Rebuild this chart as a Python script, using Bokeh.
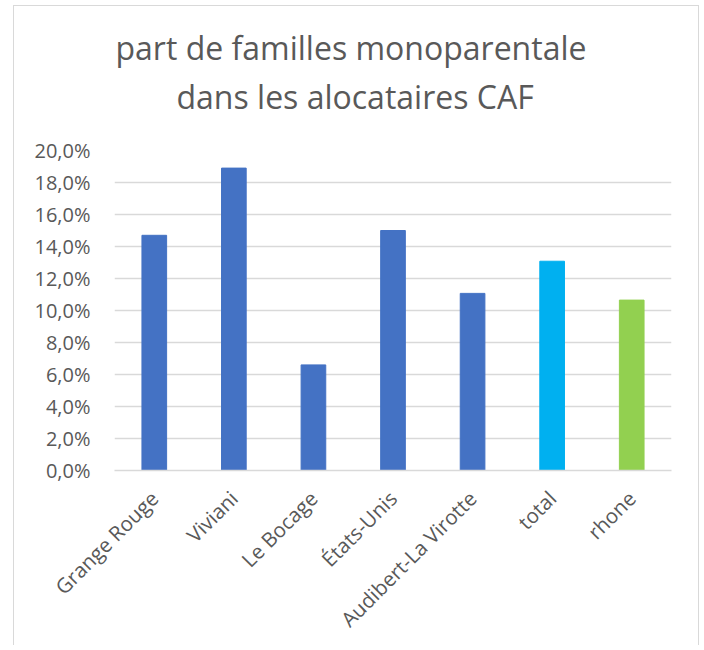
from bokeh.plotting import figure
from bokeh.models import ColumnDataSource, FixedTicker, CustomJSTickFormatter, Range1d, FactorRange, Title
from bokeh.embed import file_html
from bokeh.resources import INLINE
import math

# --- data ---
categories = ["Grange Rouge", "Viviani", "Le Bocage", "États-Unis", "Audibert-La Virotte", "total", "rhone"]
values = [0.147, 0.189, 0.066, 0.150, 0.1107, 0.1308, 0.1065]
colors = ["#4472C4", "#4472C4", "#4472C4", "#4472C4", "#4472C4", "#00B0F0", "#92D050"]
y_ticks = [0.0, 0.02, 0.04, 0.06, 0.08, 0.10, 0.12, 0.14, 0.16, 0.18, 0.20]
title_lines = ["part de familles monoparentale", "dans les alocataires CAF"]

FONT = "Open Sans"
TXT = "#595959"
GRID = "#D9D9D9"

src = ColumnDataSource(dict(cat=categories, val=values, color=colors))

p = figure(x_range=FactorRange(*categories), y_range=Range1d(0, 0.20),
           width=686, height=640, output_backend="svg", toolbar_location=None,
           min_border_left=100, min_border_right=29, min_border_top=144, min_border_bottom=176)
p.margin = (5, 0, 0, 13)
p.styles = {"border-left": "1px solid #D9D9D9", "border-top": "1px solid #D9D9D9",
            "border-right": "1px solid #D9D9D9"}

p.vbar(x="cat", top="val", width=0.31, color="color", source=src)

p.outline_line_color = None
p.background_fill_color = "white"
p.border_fill_color = "white"

p.xgrid.grid_line_color = None
p.ygrid.grid_line_color = GRID
p.ygrid.grid_line_width = 1.5

p.yaxis.ticker = FixedTicker(ticks=y_ticks)
p.yaxis.formatter = CustomJSTickFormatter(code="return (tick*100).toFixed(1).replace('.', ',') + '%';")
p.yaxis.axis_line_color = None
p.yaxis.major_tick_line_color = None
p.yaxis.minor_tick_line_color = None
p.yaxis.major_tick_out = 0
p.yaxis.major_label_standoff = 24
p.yaxis.major_label_text_font = FONT
p.yaxis.major_label_text_font_size = "20px"
p.yaxis.major_label_text_color = TXT

p.xaxis.axis_line_color = GRID
p.xaxis.axis_line_width = 1.5
p.xaxis.major_tick_line_color = None
p.xaxis.minor_tick_line_color = None
p.xaxis.major_tick_out = 0
p.xaxis.major_label_standoff = 24
p.xaxis.major_label_orientation = math.pi / 4
p.xaxis.major_label_text_font = FONT
p.xaxis.major_label_text_font_size = "20.5px"
p.xaxis.major_label_text_color = TXT

# title: line 2 first (closest to the frame), then line 1
p.add_layout(Title(text=title_lines[1], align="left", offset=62, standoff=66,
                   text_font=FONT, text_font_size="32px", text_font_style="normal",
                   text_color=TXT), "above")
p.add_layout(Title(text=title_lines[0], align="left", offset=1, standoff=-59,
                   text_font=FONT, text_font_size="32px", text_font_style="normal",
                   text_color=TXT), "above")

open("out.html", "w").write(file_html(p, INLINE))
